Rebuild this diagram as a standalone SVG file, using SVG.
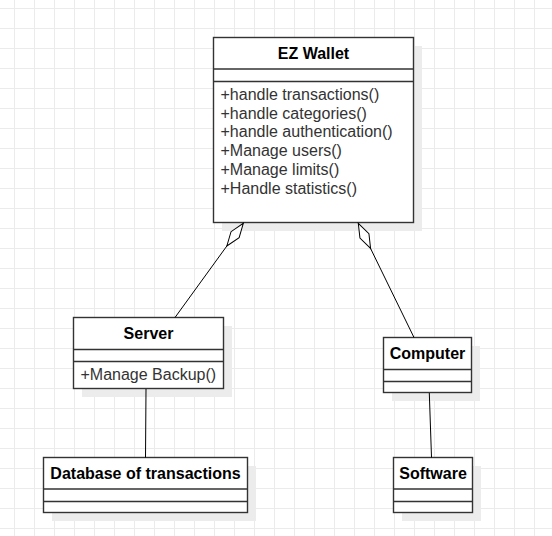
<svg xmlns="http://www.w3.org/2000/svg" width="552" height="536" viewBox="0 0 552 536">
<defs>
<pattern id="grid" patternUnits="userSpaceOnUse" x="14" y="8" width="20" height="20">
<path d="M0.5 0 V20 M0 0.5 H20" stroke="#ebebeb" stroke-width="1" fill="none"/>
</pattern>
<marker id="diamond" markerUnits="userSpaceOnUse" viewBox="-1 -7 31 14" refX="0" refY="0" markerWidth="31" markerHeight="14" orient="auto" overflow="visible">
<path d="M0 0 L14 -5 L28 0 L14 5 Z" fill="#fff" stroke="#000" stroke-width="1"/>
</marker>
</defs>
<style>
.box{fill:#fff;stroke:#333;stroke-width:1.4}
.shadow{fill:#ececec}
.sep{stroke:#333;stroke-width:1.4}
.title{font-family:"Liberation Sans",Arial,sans-serif;font-size:16px;font-weight:bold;fill:#000;text-anchor:middle}
.m{font-family:"Liberation Sans",Arial,sans-serif;font-size:16px;fill:#333}
.c{stroke:#000;stroke-width:1;fill:none}
</style>
<rect width="552" height="536" fill="#fff"/>
<rect width="552" height="536" fill="url(#grid)"/>

<g id="ez-wallet">
<rect class="shadow" x="222" y="46" width="200" height="185"/>
<rect class="box" x="213.5" y="37.5" width="200" height="185"/>
<line class="sep" x1="213.5" y1="69" x2="413.5" y2="69"/>
<line class="sep" x1="213.5" y1="81.5" x2="413.5" y2="81.5"/>
<text class="title" x="313.5" y="59">EZ Wallet</text>
<text class="m" x="220.5" y="100">+handle transactions()</text>
<text class="m" x="220.5" y="118.7">+handle categories()</text>
<text class="m" x="220.5" y="137.4">+handle authentication()</text>
<text class="m" x="220.5" y="156.1">+Manage users()</text>
<text class="m" x="220.5" y="174.8">+Manage limits()</text>
<text class="m" x="220.5" y="193.5">+Handle statistics()</text>
</g>

<g id="server">
<rect class="shadow" x="82" y="326" width="150" height="71"/>
<rect class="box" x="73.5" y="317.5" width="150" height="71"/>
<line class="sep" x1="73.5" y1="349.5" x2="223.5" y2="349.5"/>
<line class="sep" x1="73.5" y1="361.5" x2="223.5" y2="361.5"/>
<text class="title" x="148.5" y="339">Server</text>
<text class="m" x="80.5" y="380">+Manage Backup()</text>
</g>

<g id="computer">
<rect class="shadow" x="392" y="346" width="88" height="55"/>
<rect class="box" x="383.5" y="337.5" width="88" height="55"/>
<line class="sep" x1="383.5" y1="369.5" x2="471.5" y2="369.5"/>
<line class="sep" x1="383.5" y1="381.5" x2="471.5" y2="381.5"/>
<text class="title" x="427.5" y="358.5">Computer</text>
</g>

<g id="database">
<rect class="shadow" x="52" y="466" width="204" height="55"/>
<rect class="box" x="43.5" y="457.5" width="204" height="55"/>
<line class="sep" x1="43.5" y1="489" x2="247.5" y2="489"/>
<line class="sep" x1="43.5" y1="501.5" x2="247.5" y2="501.5"/>
<text class="title" x="145.5" y="479">Database of transactions</text>
</g>

<g id="software">
<rect class="shadow" x="402" y="466" width="79" height="55"/>
<rect class="box" x="393.5" y="457.5" width="79" height="55"/>
<line class="sep" x1="393.5" y1="489" x2="472.5" y2="489"/>
<line class="sep" x1="393.5" y1="501.5" x2="472.5" y2="501.5"/>
<text class="title" x="433" y="479">Software</text>
</g>

<g id="connectors">
<path class="c" d="M243.3 223.3 L175 317.5" marker-start="url(#diamond)"/>
<path class="c" d="M358.3 223.3 L414 337.5" marker-start="url(#diamond)"/>
<path class="c" d="M146 389 L145.5 457.5"/>
<path class="c" d="M429.3 393 L431.5 457.5"/>
</g>
</svg>
